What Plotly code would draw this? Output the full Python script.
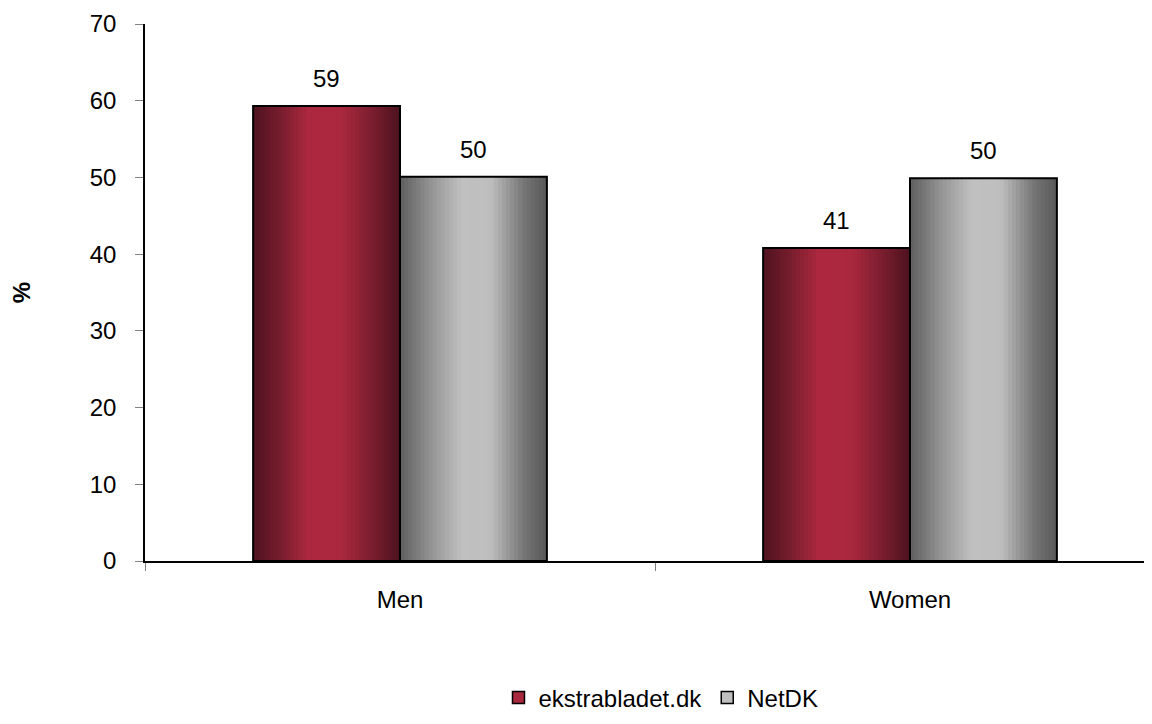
import plotly.graph_objects as go

# Data
categories = ["Men", "Women"]
series_names = ["ekstrabladet.dk", "NetDK"]
ekstrabladet = [59.3, 40.8]
netdk = [50.1, 49.9]
labels_ekstrabladet = ["59", "41"]
labels_netdk = ["50", "50"]


def lerp(c1, c2, t):
    return tuple(int(round(a + (b - a) * t)) for a, b in zip(c1, c2))


def gradient(stops, t):
    # stops: list of (pos, rgb)
    for (p1, c1), (p2, c2) in zip(stops, stops[1:]):
        if p1 <= t <= p2:
            return "rgb(%d,%d,%d)" % lerp(c1, c2, (t - p1) / (p2 - p1))
    return "rgb(%d,%d,%d)" % stops[-1][1]


# Excel-like "shaded" bar fill
red_stops = [(0.0, (78, 19, 31)), (0.18, (118, 29, 45)), (0.38, (172, 40, 63)),
             (0.6, (170, 40, 62)), (0.8, (125, 30, 47)), (1.0, (76, 19, 30))]
grey_stops = [(0.0, (94, 94, 94)), (0.22, (150, 150, 150)), (0.42, (192, 192, 192)),
              (0.62, (190, 190, 190)), (0.84, (118, 118, 118)), (1.0, (88, 88, 88))]

bar_w = 0.288
n_slices = 36
fig = go.Figure()

series = [
    (ekstrabladet, labels_ekstrabladet, red_stops, -bar_w, series_names[0], "rgb(170,40,62)"),
    (netdk, labels_netdk, grey_stops, 0.0, series_names[1], "rgb(190,190,190)"),
]

for values, texts, stops, start, name, legend_col in series:
    sw = bar_w / n_slices
    for i in range(n_slices):
        w = sw * 2 if i < n_slices - 1 else sw
        fig.add_trace(go.Bar(
            x=categories, y=values, width=w, offset=start + i * sw,
            marker=dict(color=gradient(stops, (i + 0.5) / n_slices), line=dict(width=0)),
            showlegend=False, hoverinfo="skip",
        ))
    # black outline on top
    fig.add_trace(go.Bar(
        x=categories, y=values, width=bar_w, offset=start,
        marker=dict(color="rgba(0,0,0,0)", line=dict(color="black", width=2)),
        showlegend=False, name=name, hoverinfo="skip",
    ))
    # legend entry only
    fig.add_trace(go.Bar(
        x=[categories[0]], y=[None], name=name,
        marker=dict(color=legend_col, line=dict(color="black", width=1.5)),
    ))
    # value labels above the bars
    for i, (v, t) in enumerate(zip(values, texts)):
        fig.add_annotation(
            x=i + start + bar_w / 2, y=v, xref="x", yref="y",
            text=t, showarrow=False, yanchor="bottom", yshift=12,
            font=dict(size=24, color="black"),
        )

fig.update_layout(
    width=1144, height=716,
    barmode="overlay",
    plot_bgcolor="white", paper_bgcolor="white",
    font=dict(family="Liberation Sans, Arial, sans-serif", size=24, color="black"),
    margin=dict(l=137, r=0, t=16, b=163),
    showlegend=True,
    legend=dict(orientation="h", x=0.5124, xanchor="center", y=-0.255, yanchor="middle",
                font=dict(size=24), itemwidth=30, traceorder="normal"),
)

fig.update_xaxes(
    range=[-0.5, 1.4745], showline=True, linecolor="black", linewidth=1.5,
    ticks="outside", tickson="boundaries", ticklen=8, tickcolor="#808080",
    showgrid=False, zeroline=False, tickfont=dict(size=24), ticklabelstandoff=16,
)
fig.update_yaxes(
    range=[0, 70], dtick=10, showline=True, linecolor="black", linewidth=1.5,
    ticks="outside", ticklen=8, tickcolor="#808080", showgrid=False, zeroline=False,
    tickfont=dict(size=24), ticklabelstandoff=14,
    title=dict(text="<b>%</b>", font=dict(size=24), standoff=54),
)

fig.write_html("out.html")
